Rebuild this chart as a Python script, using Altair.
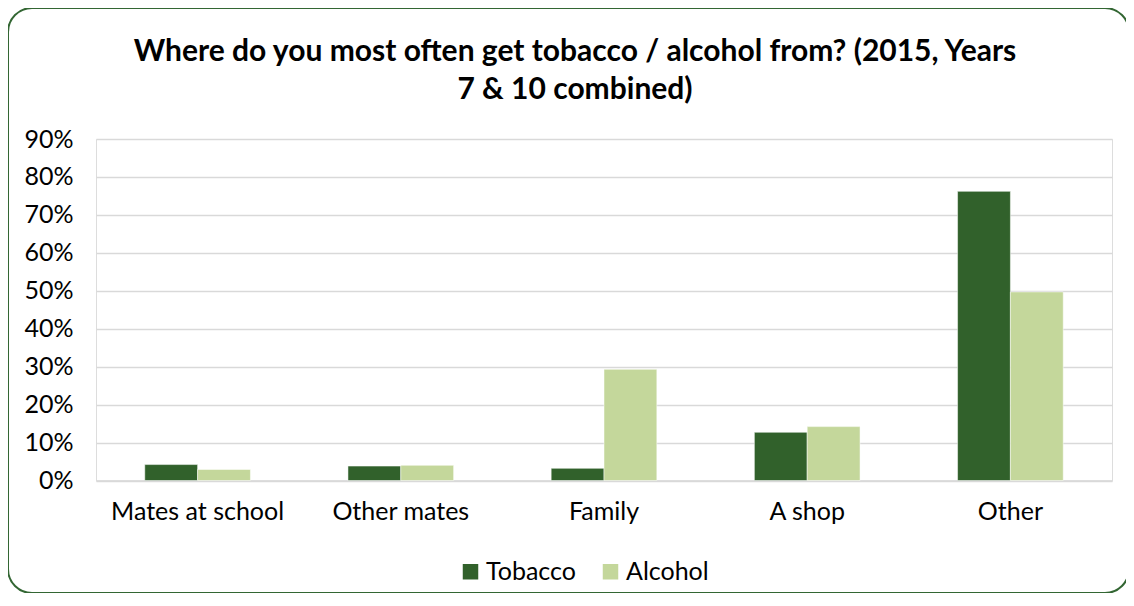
import altair as alt
import pandas as pd

categories = ["Mates at school", "Other mates", "Family", "A shop", "Other"]
tobacco = [0.042, 0.038, 0.032, 0.127, 0.762]
alcohol = [0.029, 0.040, 0.293, 0.142, 0.497]
series = ["Tobacco", "Alcohol"]
colors = ["#31612B", "#C4D79B"]

rows = []
for c, t, a in zip(categories, tobacco, alcohol):
    rows.append({"cat": c, "series": "Tobacco", "value": t})
    rows.append({"cat": c, "series": "Alcohol", "value": a})
df = pd.DataFrame(rows)

FONT = "Lato"

bars = alt.Chart(df).mark_bar(stroke="white", strokeWidth=0.5).encode(
    x=alt.X("cat:N", sort=categories, title=None,
            scale=alt.Scale(paddingInner=0.48, paddingOuter=0.24),
            axis=alt.Axis(labelAngle=0, labelFontSize=25, labelColor="#000000",
                          labelFont=FONT, ticks=False, domain=True, domainColor="#D9D9D9",
                          domainWidth=1.5, labelPadding=19, grid=False)),
    xOffset=alt.XOffset("series:N", sort=series),
    y=alt.Y("value:Q", title=None,
            scale=alt.Scale(domain=[0, 0.9], nice=False),
            axis=alt.Axis(format=".0%", values=[i / 10 for i in range(10)],
                          labelFontSize=25, labelColor="#000000", labelFont=FONT,
                          ticks=False, domain=False, labelPadding=23,
                          grid=True, gridColor="#D9D9D9", gridWidth=1.5)),
    color=alt.Color("series:N", sort=series,
                    scale=alt.Scale(domain=series, range=colors),
                    legend=alt.Legend(title=None, orient="none", direction="horizontal",
                                      legendX=362, legendY=420,
                                      symbolType="square", symbolSize=240,
                                      symbolStrokeWidth=0,
                                      labelFontSize=25, labelFont=FONT,
                                      labelColor="#000000", columnPadding=22,
                                      labelOffset=3)),
)

border = alt.Chart(pd.DataFrame({"a": [0]})).mark_rect(
    fill=None, stroke="#336633", strokeWidth=2, cornerRadius=24
).encode(
    x=alt.value(-88), x2=alt.value(1033),
    y=alt.value(-131), y2=alt.value(454),
)

chart = alt.layer(border, bars).properties(
    width=1016, height=341.5,
    title=alt.Title(
        ["Where do you most often get tobacco / alcohol from? (2015, Years",
         "7 & 10 combined)"],
        fontSize=30, font=FONT, fontWeight="bold", color="#000000",
        anchor="middle", dx=-29, offset=10, dy=108, lineHeight=38,
    ),
    padding={"left": 88, "top": 131, "right": 14, "bottom": 112},
    autosize=alt.AutoSizeParams(type="none"),
).configure_view(stroke=None).configure(background="white")

chart.save("out.html", embed_options={"renderer": "svg", "actions": False})
